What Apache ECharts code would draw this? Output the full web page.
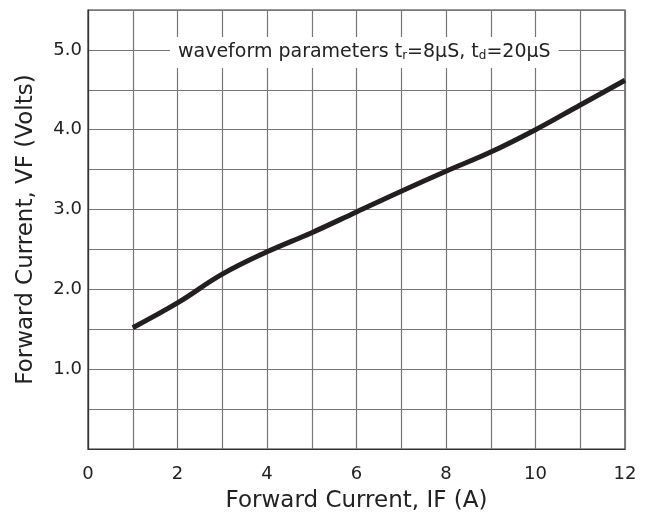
<!DOCTYPE html>
<html>
<head>
<meta charset="utf-8">
<script src="https://cdn.jsdelivr.net/npm/echarts@6/dist/echarts.min.js"></script>
<style>html,body{margin:0;padding:0;background:#fff}#c{width:659px;height:515px}</style>
</head>
<body>
<div id="c"></div>
<script>
var currentA = [1, 2, 3, 4, 5, 6, 7, 8, 9, 10, 11, 12];
var voltageV = [1.52, 1.83, 2.19, 2.47, 2.71, 2.97, 3.23, 3.48, 3.72, 4.0, 4.31, 4.62];
var xTickLabels = ['0', '2', '4', '6', '8', '10', '12'];
var yTickLabels = ['1.0', '2.0', '3.0', '4.0', '5.0'];

var pts = currentA.map(function (x, i) { return [x, voltageV[i]]; });
var FONT = '"DejaVu Sans", "Liberation Sans", Arial, sans-serif';
var chart = echarts.init(document.getElementById('c'));
chart.setOption({
  backgroundColor: '#fff',
  animation: false,
  grid: { left: 88, right: 34, top: 10, bottom: 66, show: true, borderColor: '#333', borderWidth: 1.2,
          containLabel: false, outerBoundsMode: 'none' },
  title: {
    left: 170, top: 37,
    padding: [6, 8, 6, 8],
    backgroundColor: '#fff',
    text: 'waveform parameters t{r|r}=8μS, t{r|d}=20μS',
    textStyle: {
      fontFamily: FONT, fontSize: 19, fontWeight: 'normal', color: '#222',
      rich: { r: { fontFamily: FONT, fontSize: 12, color: '#222', padding: [7, 0, 0, 0] } }
    }
  },
  xAxis: {
    type: 'value', min: 0, max: 12, interval: 1,
    name: 'Forward Current, IF (A)', nameLocation: 'middle', nameGap: 41,
    nameTextStyle: { fontFamily: FONT, fontSize: 23, color: '#222' },
    axisLine: { show: true, lineStyle: { color: '#333', width: 1.2 } },
    axisTick: { show: false },
    axisLabel: {
      fontFamily: FONT, fontSize: 18, color: '#222', margin: 16,
      formatter: function (v) { var s = String(v); return xTickLabels.indexOf(s) >= 0 ? s : ''; }
    },
    splitLine: { show: true, lineStyle: { color: '#777', width: 1.2 } }
  },
  yAxis: {
    type: 'value', min: 0, max: 5.5, interval: 0.5,
    name: 'Forward Current, VF (Volts)', nameLocation: 'middle', nameGap: 50,
    nameTextStyle: { fontFamily: FONT, fontSize: 23, color: '#222' },
    axisLine: { show: true, lineStyle: { color: '#333', width: 1.2 } },
    axisTick: { show: false },
    axisLabel: {
      fontFamily: FONT, fontSize: 18, color: '#222', margin: 6,
      formatter: function (v) { var s = v.toFixed(1); return yTickLabels.indexOf(s) >= 0 ? s : ''; }
    },
    splitLine: { show: true, lineStyle: { color: '#777', width: 1.2 } }
  },
  series: [{
    type: 'line', data: pts, smooth: 0.4, showSymbol: false,
    lineStyle: { color: '#231f20', width: 5, cap: 'butt' }
  }]
});
</script>
</body>
</html>
